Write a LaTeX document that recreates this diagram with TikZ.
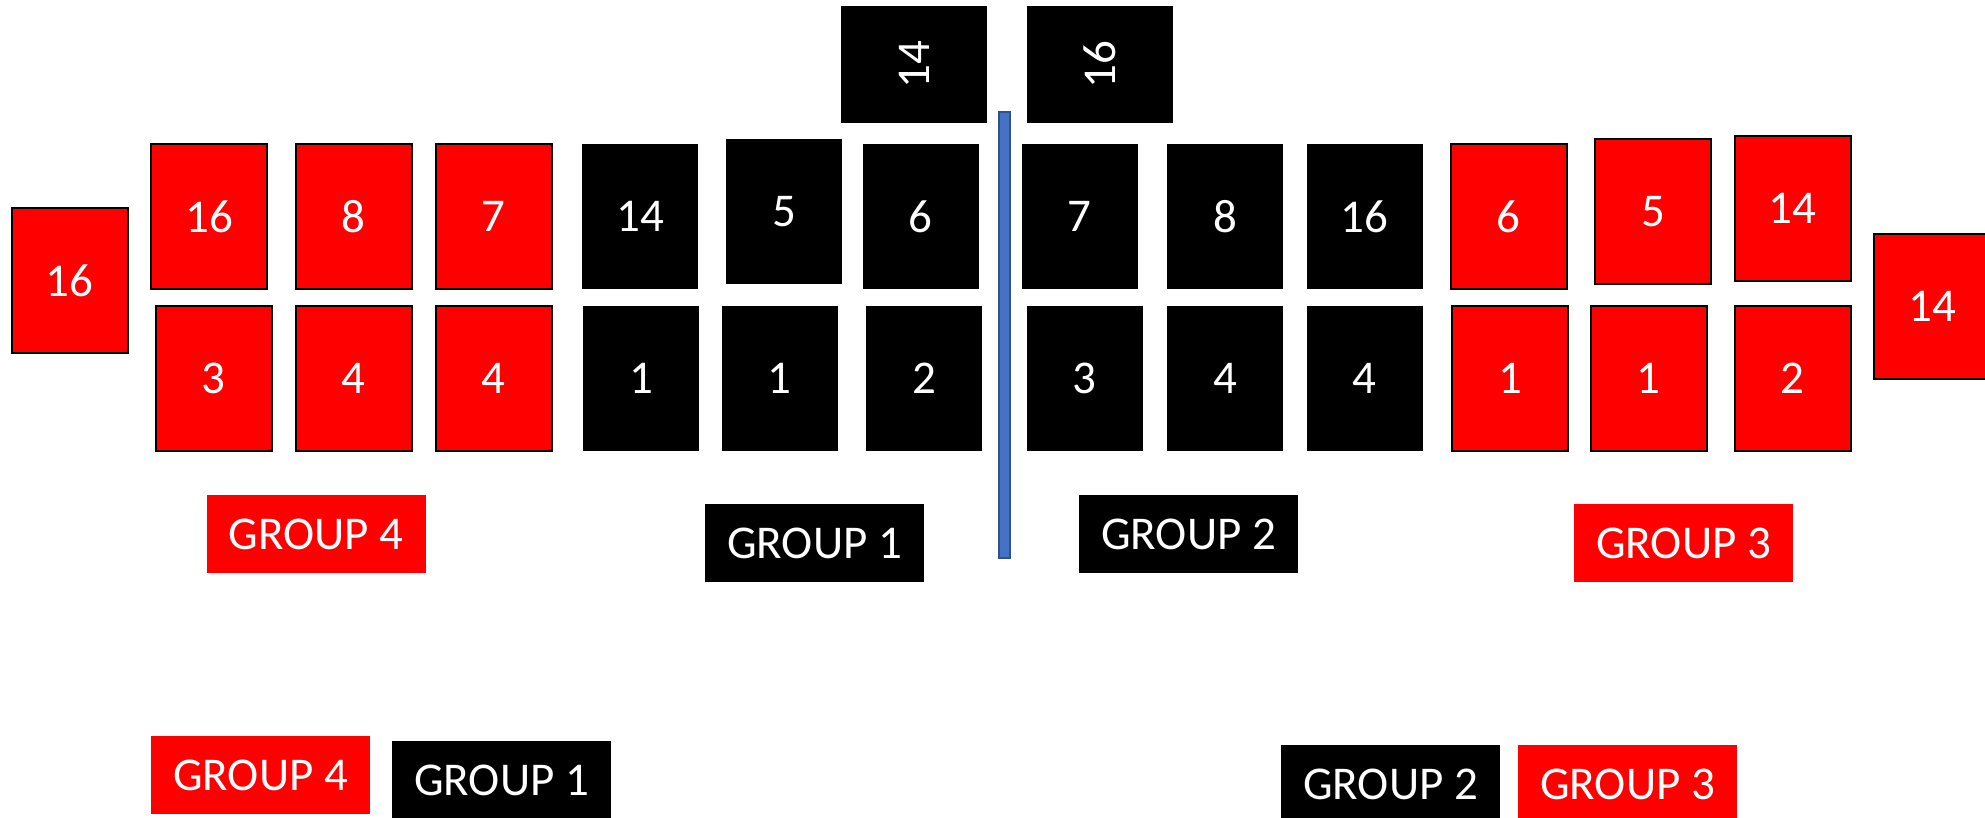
\documentclass[tikz,border=0pt]{standalone}
\usepackage{fontspec}
\setmainfont{Carlito}
\definecolor{barblue}{HTML}{4472C4}
\definecolor{barline}{HTML}{2F528F}
\begin{document}
\begin{tikzpicture}[x=0.5pt,y=-0.5pt,
  lbl/.style={inner sep=0pt, text=white, font=\fontsize{23.5}{28}\selectfont},
  card/.style={lbl, minimum width=58pt, minimum height=72.5pt},
  redcard/.style={card, fill=red, draw=black, line width=1pt},
  blackcard/.style={card, fill=black},
  topcard/.style={lbl, fill=black, minimum width=58.5pt, minimum height=73pt, rotate=90},
  grp/.style={lbl, minimum width=109.5pt, minimum height=39pt},
  redgrp/.style={grp, fill=red},
  blackgrp/.style={grp, fill=black},
  bar/.style={fill=barblue, draw=barline, line width=0.8pt, minimum width=5.5pt, minimum height=223pt, inner sep=0pt}
]
\useasboundingbox (0,0) rectangle (1985,818);

% top cards (rotated text)
\node[topcard] (t14) at (914,64.5) {14};
\node[topcard] (t16) at (1099.5,64.5) {16};

% divider bar
\node[bar] (bar) at (1004.5,335) {};

% side cards
\node[redcard] (l16) at (69.5,280.5) {16};
\node[redcard] (r14b) at (1932,306.5) {14};

% row 1
\node[redcard] (a1) at (209,216.5) {16};
\node[redcard] (a2) at (353.5,216.5) {8};
\node[redcard] (a3) at (493.5,216.5) {7};
\node[blackcard] (a4) at (640,216.5) {14};
\node[blackcard] (a5) at (784,211.5) {5};
\node[blackcard] (a6) at (920.5,216.5) {6};
\node[blackcard] (a7) at (1079.5,216.5) {7};
\node[blackcard] (a8) at (1225,216.5) {8};
\node[blackcard] (a9) at (1364.5,216.5) {16};
\node[redcard] (a10) at (1508.5,216.5) {6};
\node[redcard] (a11) at (1653,211.5) {5};
\node[redcard] (a12) at (1792.5,208.5) {14};

% row 2
\node[redcard] (b1) at (213.5,378.5) {3};
\node[redcard] (b2) at (353.5,378.5) {4};
\node[redcard] (b3) at (493.5,378.5) {4};
\node[blackcard] (b4) at (641,378.5) {1};
\node[blackcard] (b5) at (779.5,378.5) {1};
\node[blackcard] (b6) at (924,378.5) {2};
\node[blackcard] (b7) at (1084.5,378.5) {3};
\node[blackcard] (b8) at (1225,378.5) {4};
\node[blackcard] (b9) at (1364.5,378.5) {4};
\node[redcard] (b10) at (1510,378.5) {1};
\node[redcard] (b11) at (1648.5,378.5) {1};
\node[redcard] (b12) at (1792.5,378.5) {2};

% group labels
\node[redgrp] (g4) at (316,534) {GROUP 4};
\node[blackgrp] (g1) at (814.5,543) {GROUP 1};
\node[blackgrp] (g2) at (1188.5,534) {GROUP 2};
\node[redgrp] (g3) at (1683.5,543) {GROUP 3};

% bottom legend
\node[redgrp] (lg4) at (260.5,775) {GROUP 4};
\node[blackgrp] (lg1) at (501.5,780) {GROUP 1};
\node[blackgrp] (lg2) at (1390.5,784) {GROUP 2};
\node[redgrp] (lg3) at (1627.5,784) {GROUP 3};
\end{tikzpicture}
\end{document}
